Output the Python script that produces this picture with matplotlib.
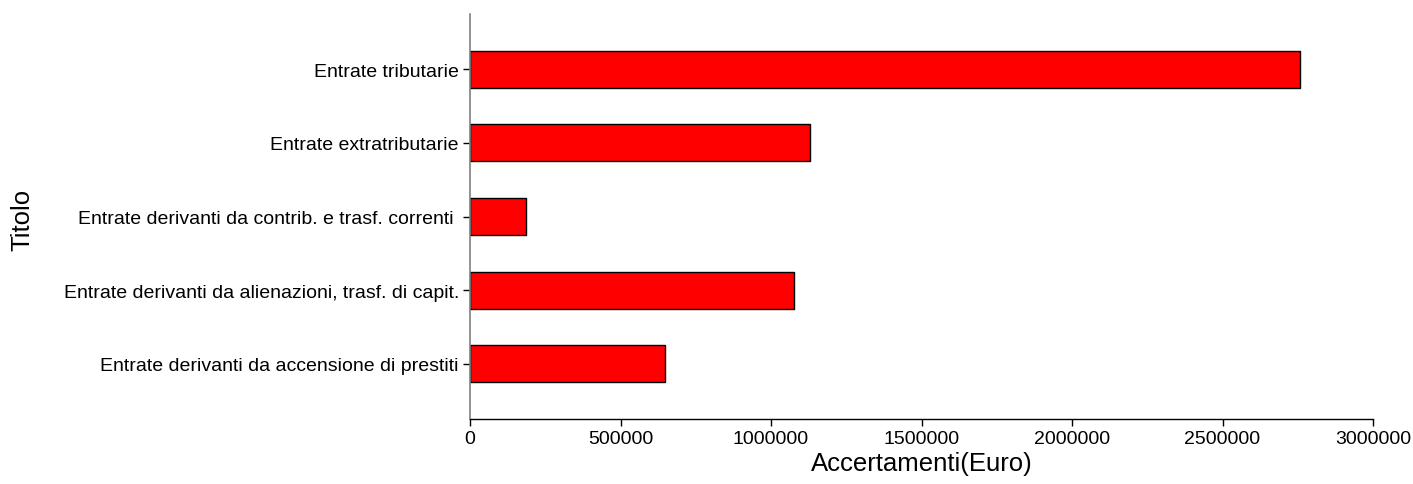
import matplotlib
matplotlib.use("Agg")
import matplotlib.pyplot as plt

categories = [
    "Entrate tributarie",
    "Entrate extratributarie",
    "Entrate derivanti da contrib. e trasf. correnti ",
    "Entrate derivanti da alienazioni, trasf. di capit.",
    "Entrate derivanti da accensione di prestiti",
]
values = [2757000, 1130000, 185000, 1077000, 647000]
xticks = [0, 500000, 1000000, 1500000, 2000000, 2500000, 3000000]

plt.rcParams['font.family'] = ['Liberation Sans', 'DejaVu Sans']

fig = plt.figure(figsize=(14.13, 4.85), dpi=100)
ax = fig.add_axes([470/1413, 1-420/485, (1373-470)/1413, (420-15)/485])

n = len(categories)
pos = list(range(n - 1, -1, -1))
ax.barh(pos, values, height=0.5, color='#ff0000', edgecolor='black', linewidth=1)

ax.set_xlim(0, 3000000)
ax.set_ylim(-0.75, n - 0.25)
ax.set_yticks(pos)
ax.set_yticklabels(categories, fontsize=14)
ax.set_xticks(xticks)
ax.set_xticklabels([str(t) for t in xticks], fontsize=14)
ax.tick_params(axis='both', length=5, width=1, color='black', pad=3)

for s in ['top', 'right']:
    ax.spines[s].set_visible(False)
ax.spines['left'].set_color('#808080')
ax.spines['left'].set_linewidth(1.2)
ax.spines['bottom'].set_color('black')
ax.spines['bottom'].set_linewidth(1)

ax.set_xlabel("Accertamenti(Euro)", fontsize=18.5, labelpad=3)
fig.text(22/1413, 1-220/485, "Titolo", fontsize=18.5, rotation=90, ha='center', va='center')

fig.savefig("out.png", dpi=100)
